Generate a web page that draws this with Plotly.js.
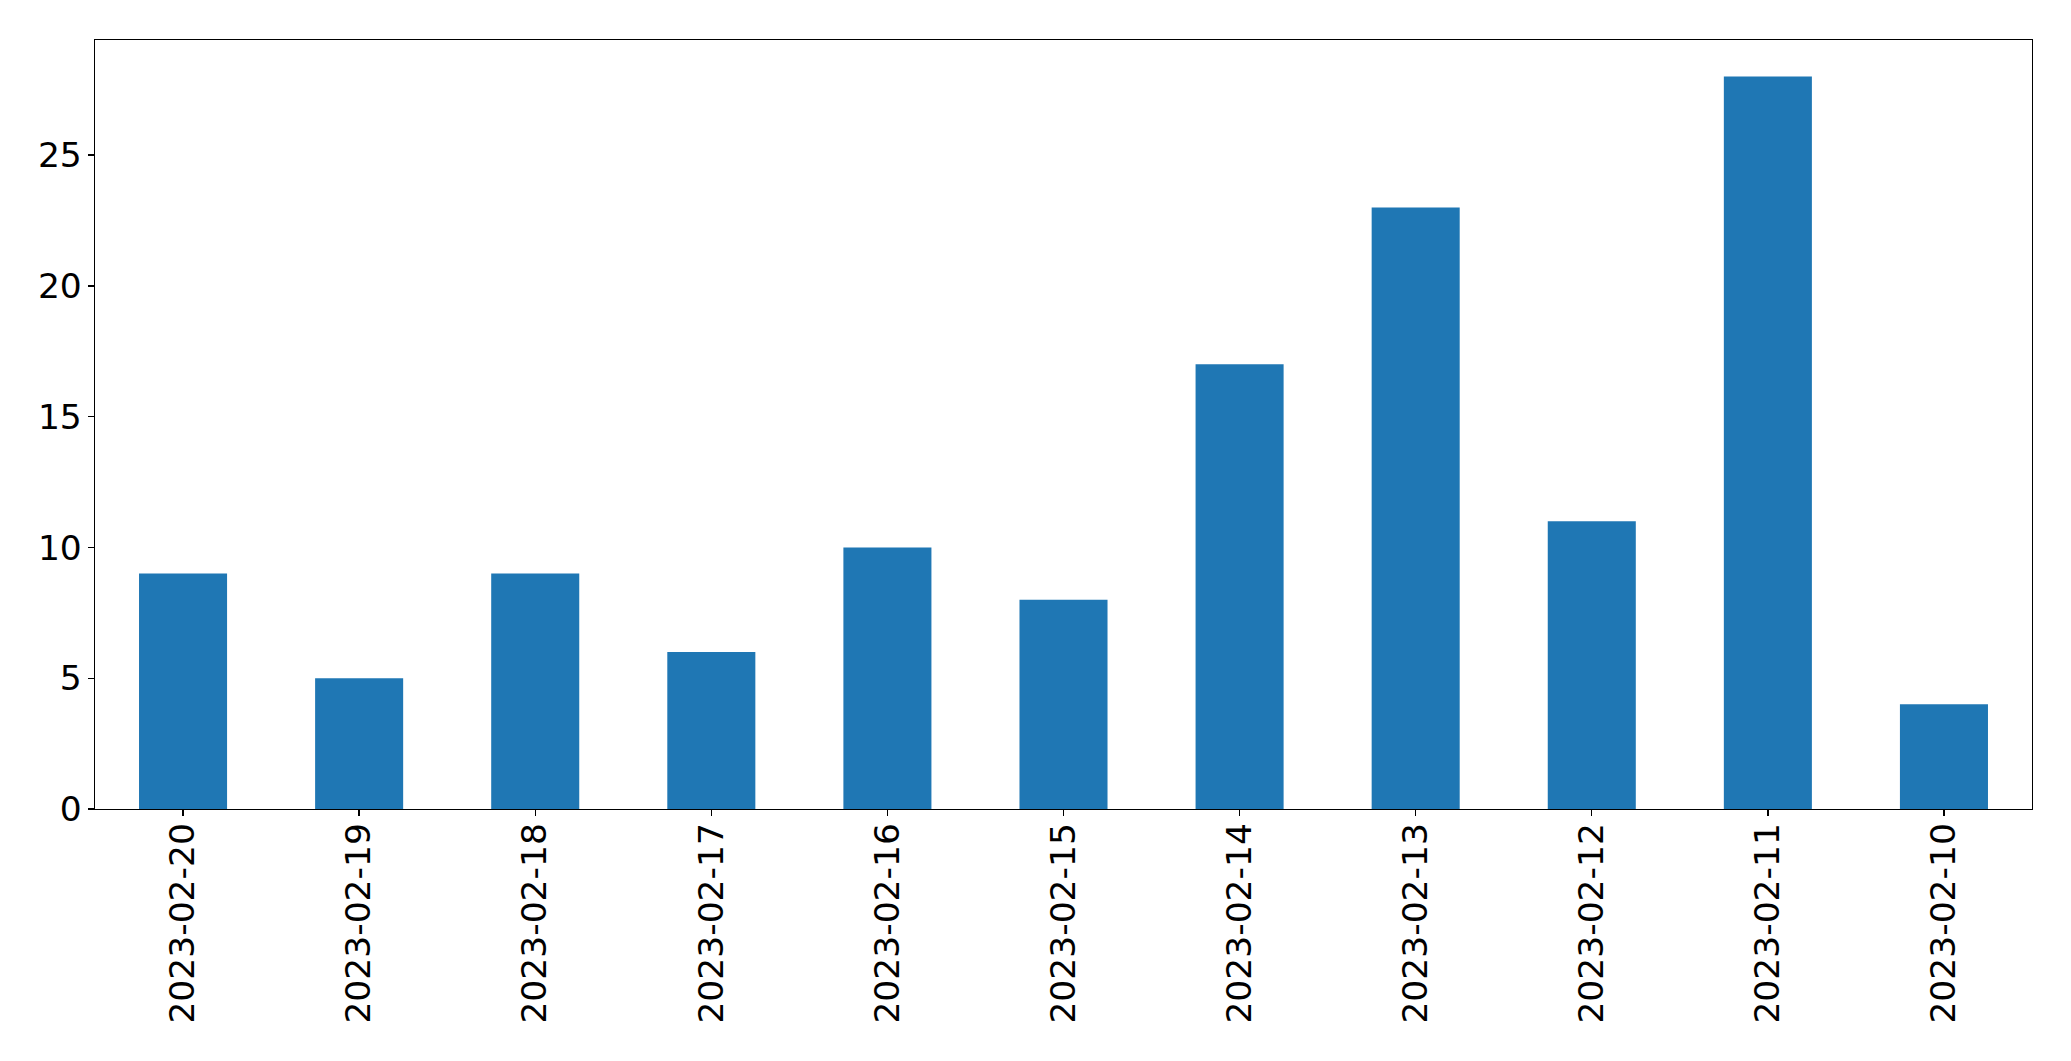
<!DOCTYPE html>
<html>
<head>
<meta charset="utf-8">
<script src="https://cdn.plot.ly/plotly-3.0.1.min.js"></script>
<style>html,body{margin:0;padding:0;background:#fff;}#chart{width:2071px;height:1061px;}</style>
</head>
<body>
<div id="chart"></div>
<script>
const categories = ["2023-02-20","2023-02-19","2023-02-18","2023-02-17","2023-02-16","2023-02-15","2023-02-14","2023-02-13","2023-02-12","2023-02-11","2023-02-10"];
const values = [9,5,9,6,10,8,17,23,11,28,4];
const yTicks = [0,5,10,15,20,25];

const trace = {
  type: 'bar',
  x: categories,
  y: values,
  width: 0.5,
  marker: {color: '#1f77b4', line: {width: 0}},
  hoverinfo: 'x+y'
};
const font = {family: 'DejaVu Sans, sans-serif', size: 34.5, color: '#000'};
const layout = {
  width: 2071, height: 1061,
  margin: {l: 94.5, r: 39.3, t: 39.5, b: 252, pad: 0},
  paper_bgcolor: '#fff', plot_bgcolor: '#fff',
  showlegend: false,
  bargap: 0.5,
  xaxis: {
    type: 'category',
    range: [-0.5, 10.5],
    tickangle: -90,
    ticks: 'outside', ticklen: 6, tickwidth: 1.3, tickcolor: '#000',
    showline: true, linecolor: '#000', linewidth: 1.3, mirror: true,
    showgrid: false, zeroline: false,
    tickfont: font,
    ticklabelstandoff: -7
  },
  yaxis: {
    range: [0, 29.4],
    tickvals: yTicks,
    ticktext: yTicks.map(String),
    ticks: 'outside', ticklen: 6, tickwidth: 1.3, tickcolor: '#000',
    showline: true, linecolor: '#000', linewidth: 1.3, mirror: true,
    showgrid: false, zeroline: false,
    tickfont: font,
    ticklabelstandoff: -1
  }
};
Plotly.newPlot('chart', [trace], layout, {displayModeBar: false, staticPlot: true});
</script>
</body>
</html>
